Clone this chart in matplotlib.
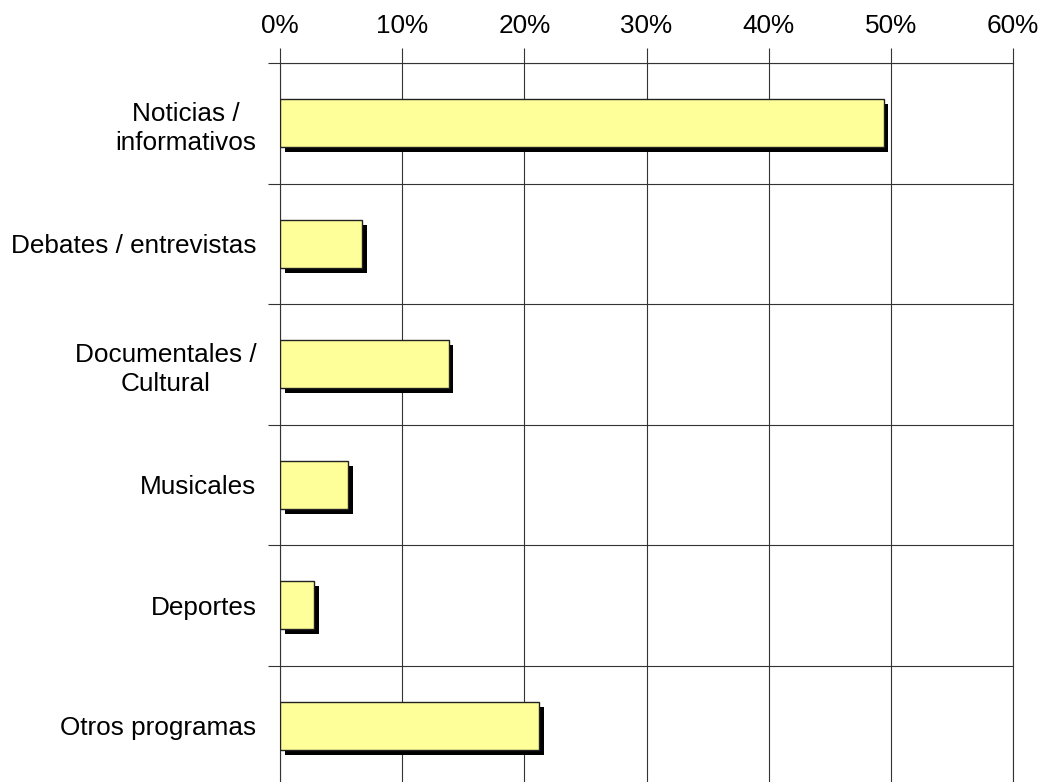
import matplotlib
matplotlib.use("Agg")
import matplotlib.pyplot as plt
import matplotlib.patheffects as pe
from matplotlib.ticker import FuncFormatter, FixedLocator

categories = ["Noticias /\ninformativos", "Debates / entrevistas", "Documentales /\nCultural",
              "Musicales", "Deportes", "Otros programas"]
values = [49.4, 6.7, 13.8, 5.6, 2.8, 21.2]
xticks = [0, 10, 20, 30, 40, 50, 60]

plt.rcParams['font.family'] = ['Liberation Sans', 'DejaVu Sans']

fig = plt.figure(figsize=(10.45, 7.82), dpi=100)
W, H = 1045, 782
left, right, top, bottom = 280, 1013, 63, 786
ax = fig.add_axes([left / W, 1 - bottom / H, (right - left) / W, (bottom - top) / H])

ypos = list(range(len(categories)))
bars = ax.barh(ypos, values, height=0.4, color='#FFFF99', edgecolor='#222222', linewidth=1.0, zorder=3)
for b in bars:
    b.set_path_effects([pe.SimplePatchShadow(offset=(3.5, -3.5), shadow_rgbFace='black', alpha=1.0),
                        pe.Normal()])

ax.set_xlim(0, 60)
ax.set_ylim(len(categories) - 0.5, -0.5)

ax.xaxis.tick_top()
ax.set_xticks(xticks)
ax.xaxis.set_major_formatter(FuncFormatter(lambda v, p: f"{int(v)}%"))
ax.tick_params(axis='x', which='major', length=11, width=0.8, color='#333333',
               labelsize=18.8, pad=7, top=True, bottom=False)
ax.grid(axis='x', which='major', color='#333333', linewidth=0.8, zorder=1)

ax.set_yticks(ypos)
ax.set_yticklabels(categories)
ax.tick_params(axis='y', which='major', length=0, labelsize=18.8, pad=17)
for lbl in ax.get_yticklabels():
    lbl.set_horizontalalignment('right')
    lbl.set_multialignment('center')
    lbl.set_linespacing(1.25)
ax.yaxis.set_minor_locator(FixedLocator([i - 0.5 for i in range(len(categories) + 1)]))
ax.tick_params(axis='y', which='minor', length=9, width=0.8, color='#333333', left=True)
ax.grid(axis='y', which='minor', color='#333333', linewidth=0.8, zorder=1)

ax.spines['bottom'].set_visible(False)
for s in ['top', 'left', 'right']:
    ax.spines[s].set_color('#333333')
    ax.spines[s].set_linewidth(0.8)

fig.savefig('out.png', dpi=100)
